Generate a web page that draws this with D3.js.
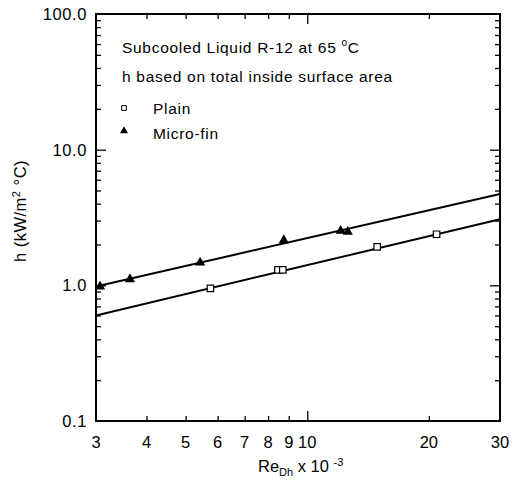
<!DOCTYPE html>
<html>
<head>
<meta charset="utf-8">
<script src="https://cdn.jsdelivr.net/npm/d3@7"></script>
<style>
  body { margin: 0; background: #fff; }
  text { font-family: "Liberation Sans", Arial, sans-serif; fill: #000; }
  .axis path { display: none; }
  .axis line { stroke: #000; stroke-width: 1.3; }
</style>
</head>
<body>
<svg id="chart" width="514" height="486"></svg>
<script>
// data (Re x 10^-3, h in kW/m2 C)
var plainRe = [5.76, 8.46, 8.7, 14.9, 20.9];
var plainH = [0.95, 1.3, 1.3, 1.92, 2.38];
var finRe = [3.07, 3.64, 5.43, 8.75, 12.1, 12.6];
var finH = [0.98, 1.11, 1.47, 2.15, 2.52, 2.48];
// fitted lines, end points
var plainFitRe = [3, 30];
var plainFitH = [0.6, 3.07];
var finFitRe = [3, 30];
var finFitH = [0.98, 4.72];

var xMinorTicks = [4, 5, 6, 7, 8, 9, 20];
var xMajorTicks = [10];
var xLabels = [3, 4, 5, 6, 7, 8, 9, 10, 20, 30];
var yMajorTicks = [1, 10];
var yMinorTicks = [0.2, 0.3, 0.4, 0.5, 0.6, 0.7, 0.8, 0.9, 2, 3, 4, 5, 6, 7, 8, 9, 20, 30, 40, 50, 60, 70, 80, 90];
var yLabels = [0.1, 1, 10, 100];

var margin = {left: 96, right: 14, top: 14, bottom: 65};
var svg = d3.select("#chart");
var W = 514, H = 486;

var x = d3.scaleLog().domain([3, 30]).range([margin.left, W - margin.right]);
var y = d3.scaleLog().domain([0.1, 100]).range([H - margin.bottom, margin.top]);

var pw = x.range()[1] - x.range()[0];
var ph = y.range()[0] - y.range()[1];

// ticks, all pointing inward
function ticks(axisFn, vals, size, tr) {
  svg.append("g").attr("class", "axis")
    .attr("transform", tr)
    .call(axisFn.tickValues(vals).tickSize(size).tickFormat(""));
}
ticks(d3.axisBottom(x), xMinorTicks, -5, `translate(0,${y.range()[0]})`);
ticks(d3.axisBottom(x), xMajorTicks, -10, `translate(0,${y.range()[0]})`);
ticks(d3.axisTop(x), xMinorTicks, -5, `translate(0,${y.range()[1]})`);
ticks(d3.axisTop(x), xMajorTicks, -10, `translate(0,${y.range()[1]})`);
ticks(d3.axisLeft(y), yMinorTicks, -5, `translate(${x.range()[0]},0)`);
ticks(d3.axisLeft(y), yMajorTicks, -10, `translate(${x.range()[0]},0)`);
ticks(d3.axisRight(y), yMinorTicks, -5, `translate(${x.range()[1]},0)`);
ticks(d3.axisRight(y), yMajorTicks, -10, `translate(${x.range()[1]},0)`);

// frame
svg.append("rect")
  .attr("x", x.range()[0]).attr("y", y.range()[1])
  .attr("width", pw).attr("height", ph)
  .attr("fill", "none").attr("stroke", "#000").attr("stroke-width", 2);

// tick labels
svg.append("g").selectAll("text")
  .data(xLabels).enter().append("text")
  .attr("x", d => x(d))
  .attr("y", y.range()[0] + 27)
  .attr("text-anchor", "middle")
  .attr("font-size", 16.5)
  .text(d => d);

svg.append("g").selectAll("text")
  .data(yLabels).enter().append("text")
  .attr("x", x.range()[0] - 9)
  .attr("y", d => y(d) + 6)
  .attr("text-anchor", "end")
  .attr("font-size", 16.5)
  .attr("letter-spacing", 0.6)
  .text(d => d3.format(".1f")(d));

// axis titles
var xt = svg.append("text")
  .attr("x", 258).attr("y", 472)
  .attr("font-size", 16.5);
xt.append("tspan").text("Re");
xt.append("tspan").attr("font-size", 11).attr("dy", 4).text("Dh");
xt.append("tspan").attr("dy", -4).text(" x 10 ");
xt.append("tspan").attr("font-size", 11).attr("dy", -6).text("-3");

var yt = svg.append("text")
  .attr("transform", "translate(26,211) rotate(-90)")
  .attr("text-anchor", "middle")
  .attr("font-size", 16.5)
  .attr("letter-spacing", 0.5);
yt.append("tspan").text("h (kW/m");
yt.append("tspan").attr("font-size", 11).attr("dy", -6).text("2");
yt.append("tspan").attr("dy", 6).text(" \u00B0C)");

// fitted lines
var line = d3.line().x(d => x(d[0])).y(d => y(d[1]));
svg.append("path")
  .attr("d", line(d3.zip(plainFitRe, plainFitH)))
  .attr("fill", "none").attr("stroke", "#000").attr("stroke-width", 2);
svg.append("path")
  .attr("d", line(d3.zip(finFitRe, finFitH)))
  .attr("fill", "none").attr("stroke", "#000").attr("stroke-width", 2);

// markers
var square = d3.symbol().type(d3.symbolSquare).size(42);
var tri = d3.symbol().type(d3.symbolTriangle).size(45);

svg.append("g").selectAll("path")
  .data(d3.zip(plainRe, plainH)).enter().append("path")
  .attr("d", square)
  .attr("transform", d => `translate(${x(d[0])},${y(d[1])})`)
  .attr("fill", "#fff").attr("stroke", "#000").attr("stroke-width", 1.2);

svg.append("g").selectAll("path")
  .data(d3.zip(finRe, finH)).enter().append("path")
  .attr("d", tri)
  .attr("transform", d => `translate(${x(d[0])},${y(d[1])})`)
  .attr("fill", "#000");

// annotation + legend
var fs = 15.5, ls = 0.7;
var t1 = svg.append("text").attr("x", 122).attr("y", 53)
  .attr("font-size", fs).attr("letter-spacing", ls);
t1.append("tspan").text("Subcooled Liquid R-12 at 65 ");
t1.append("tspan").attr("font-size", 10).attr("dy", -7).text("o");
t1.append("tspan").attr("dy", 7).text("C");
svg.append("text").attr("x", 122).attr("y", 82)
  .attr("font-size", fs).attr("letter-spacing", ls)
  .text("h based on total inside surface area");

svg.append("path").attr("d", d3.symbol().type(d3.symbolSquare).size(22))
  .attr("transform", "translate(124,108)")
  .attr("fill", "#fff").attr("stroke", "#000").attr("stroke-width", 1);
svg.append("text").attr("x", 153).attr("y", 114)
  .attr("font-size", fs).attr("letter-spacing", ls).text("Plain");
svg.append("path").attr("d", d3.symbol().type(d3.symbolTriangle).size(28))
  .attr("transform", "translate(124,131)")
  .attr("fill", "#000");
svg.append("text").attr("x", 153).attr("y", 139)
  .attr("font-size", fs).attr("letter-spacing", ls).text("Micro-fin");
</script>
</body>
</html>
